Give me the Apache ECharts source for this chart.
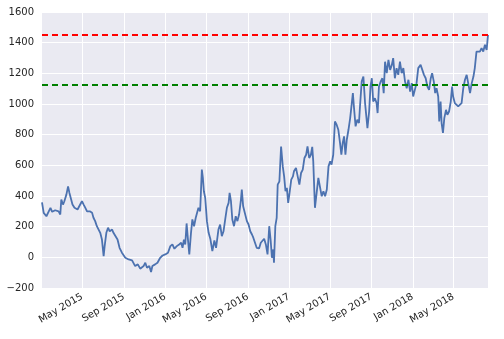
<!DOCTYPE html>
<html>
<head>
<meta charset="utf-8">
<script src="https://cdn.jsdelivr.net/npm/echarts@6/dist/echarts.min.js"></script>
<style>
  html, body { margin: 0; padding: 0; background: #fff; }
  #chart { width: 504px; height: 339px; }
</style>
</head>
<body>
<div id="chart"></div>
<script>
// days counted from startDate
const startDate = Date.UTC(2015, 0, 1);
const dayOffsets = [
  1, 6, 14, 21, 26, 31, 40, 50, 55, 58, 63, 67, 73, 78, 82, 87, 91, 97, 102, 106,
  111, 119, 124, 129, 134, 142, 149, 153, 158, 163, 168, 173, 178, 183, 186, 191, 196, 201, 208, 212,
  217, 224, 230, 237, 247, 257,
  267, 276, 284, 291, 301, 306, 311, 318, 323, 327, 335, 342, 350, 357, 365, 373, 380, 386, 392, 399,
  406, 412, 416, 420, 424, 428, 432, 436, 441, 445, 450, 455, 460, 463, 468, 473, 476, 479, 483, 488,
  493, 498, 504, 510,
  515, 522, 527, 532, 537, 542, 547, 552, 555, 559, 563, 568, 573, 578, 583, 588, 591, 595, 600, 606,
  611, 616, 621, 625, 630, 635, 642, 647, 652, 657, 662, 667, 672, 676, 680, 684, 686, 690, 694, 697,
  702, 707, 712, 716, 720, 724, 728, 732, 737, 742, 745, 751, 755, 761,
  766, 771, 776, 781, 785, 790, 795, 799, 802, 807, 812, 817, 822, 827, 832, 837, 842, 847, 852, 856,
  861, 866, 871, 876, 881, 885, 889, 893, 897, 901, 906, 911, 916, 919, 922, 927, 932, 937, 940, 945,
  950, 955, 959, 962, 967, 971, 975, 979, 984, 989, 992, 996, 1001, 1006, 1010, 1014, 1019, 1024,
  1029, 1034, 1038, 1043, 1048, 1053, 1058, 1063, 1068, 1073, 1078, 1083, 1088, 1093, 1097, 1102, 1107, 1112, 1119, 1124,
  1129, 1134, 1139, 1144, 1149, 1153, 1158, 1162, 1166, 1171, 1174, 1178, 1181, 1185, 1189, 1194, 1198, 1203, 1208, 1212,
  1215, 1220, 1225, 1230, 1235, 1240, 1245, 1250, 1255, 1260, 1265, 1270, 1275, 1279, 1284, 1289, 1294, 1299, 1304, 1309,
  1314, 1318
];
const values = [
  359, 290, 268, 300, 323, 297, 307, 300, 279, 377, 344, 366, 409, 463, 420, 409, 344, 323, 333, 312,
  333, 366, 344, 323, 300, 300, 290, 258, 236, 203, 193, 160, 116, 8, 73, 160, 193, 170, 181, 160,
  149, 116, 62, 30, -3, -14,
  -20, -57, -46, -74, -57, -35, -68, -57, -96, -57, -46, -35, -3, 12, 19, 30, 73, 84, 56, 73,
  84, 95, 62, 116, 84, 221, 116, 19, 160, 247, 203, 258, 247, 323, 300, 572, 518, 431, 388, 236,
  160, 122, 40, 110,
  62, 181, 214, 138, 170, 247, 323, 355, 420, 366, 247, 203, 268, 236, 279, 366, 442, 333, 323, 236,
  214, 170, 149, 128, 116, 62, 58, 95, 84, 121, 84, 19, 203, 116, -3, 51, -35, 203, 258, 474,
  496, 723, 593, 528, 431, 453, 355, 420, 507, 528, 561, 583, 539, 474,
  550, 572, 648, 669, 723, 648, 669, 720, 626, 323, 420, 518, 507, 398, 431, 398, 442, 593, 626, 604,
  669, 886, 865, 832, 746, 669, 746, 789, 669, 767, 832, 908, 897, 1071, 984, 854, 897, 876, 984, 1146,
  1179, 1006, 1016, 843, 951, 1114, 1168, 1016, 1038, 1006, 941, 1114, 1146, 1168, 1071, 1276, 1201, 1288,
  1222, 1255, 1299, 1168, 1234, 1190, 1276, 1201, 1234, 1146, 1103, 1158, 1081, 1136, 1049, 1092, 1136, 1234, 1255, 1266,
  1190, 1168, 1114, 1092, 1168, 1201, 1146, 1071, 1103, 1049, 886, 1016, 876, 811, 908, 962, 930, 951, 1016, 1114,
  1049, 1006, 995, 984, 973, 1006, 1103, 1158, 1190, 1179, 1071, 1136, 1179, 1234, 1342, 1353, 1342, 1364, 1342, 1386,
  1353, 1450
];
const upperLevel = 1450;
const lowerLevel = 1125;
const tickDates = ['2015-05-01', '2015-09-01', '2016-01-01', '2016-05-01', '2016-09-01', '2017-01-01',
  '2017-05-01', '2017-09-01', '2018-01-01', '2018-05-01'];
const tickLabels = ['May 2015', 'Sep 2015', 'Jan 2016', 'May 2016', 'Sep 2016', 'Jan 2017',
  'May 2017', 'Sep 2017', 'Jan 2018', 'May 2018'];

const DAY = 86400000;
const points = dayOffsets.map((d, i) => [startDate + d * DAY, values[i]]);
const tickTimes = tickDates.map(s => Date.parse(s + 'T00:00:00Z'));
const labelFor = {};
tickTimes.forEach((t, i) => { labelFor[t] = tickLabels[i]; });

const chart = echarts.init(document.getElementById('chart'), null, { renderer: 'canvas' });
const font = 'DejaVu Sans';

chart.setOption({
  animation: false,
  grid: { left: 42, right: 16, top: 12, bottom: 51, backgroundColor: '#EAEAF2', show: true, borderWidth: 0 },
  xAxis: {
    type: 'value',
    min: points[0][0],
    max: points[points.length - 1][0],
    axisLine: { show: false },
    axisTick: { show: false, customValues: tickTimes },
    axisLabel: {
      customValues: tickTimes,
      formatter: v => labelFor[v] || '',
      rotate: 30,
      margin: 8,
      fontFamily: font,
      fontSize: 10,
      color: '#262626',
      hideOverlap: false
    },
    splitLine: { show: true, lineStyle: { color: '#ffffff', width: 1 } }
  },
  yAxis: {
    type: 'value',
    min: -200,
    max: 1600,
    interval: 200,
    axisLine: { show: false },
    axisTick: { show: false },
    axisLabel: {
      margin: 8,
      fontFamily: font,
      fontSize: 10,
      color: '#262626',
      formatter: v => (v < 0 ? '\u2212' + Math.abs(v) : String(v))
    },
    splitLine: { show: true, lineStyle: { color: '#ffffff', width: 1 } }
  },
  series: [{
    type: 'line',
    data: points,
    showSymbol: false,
    lineStyle: { color: '#4C72B0', width: 1.8 },
    itemStyle: { color: '#4C72B0' },
    markLine: {
      silent: true,
      symbol: 'none',
      label: { show: false },
      data: [
        { yAxis: upperLevel, lineStyle: { color: '#FF0000', type: [6, 4], width: 2 } },
        { yAxis: lowerLevel, lineStyle: { color: '#008000', type: [6, 4], width: 2 } }
      ]
    }
  }]
});
</script>
</body>
</html>
